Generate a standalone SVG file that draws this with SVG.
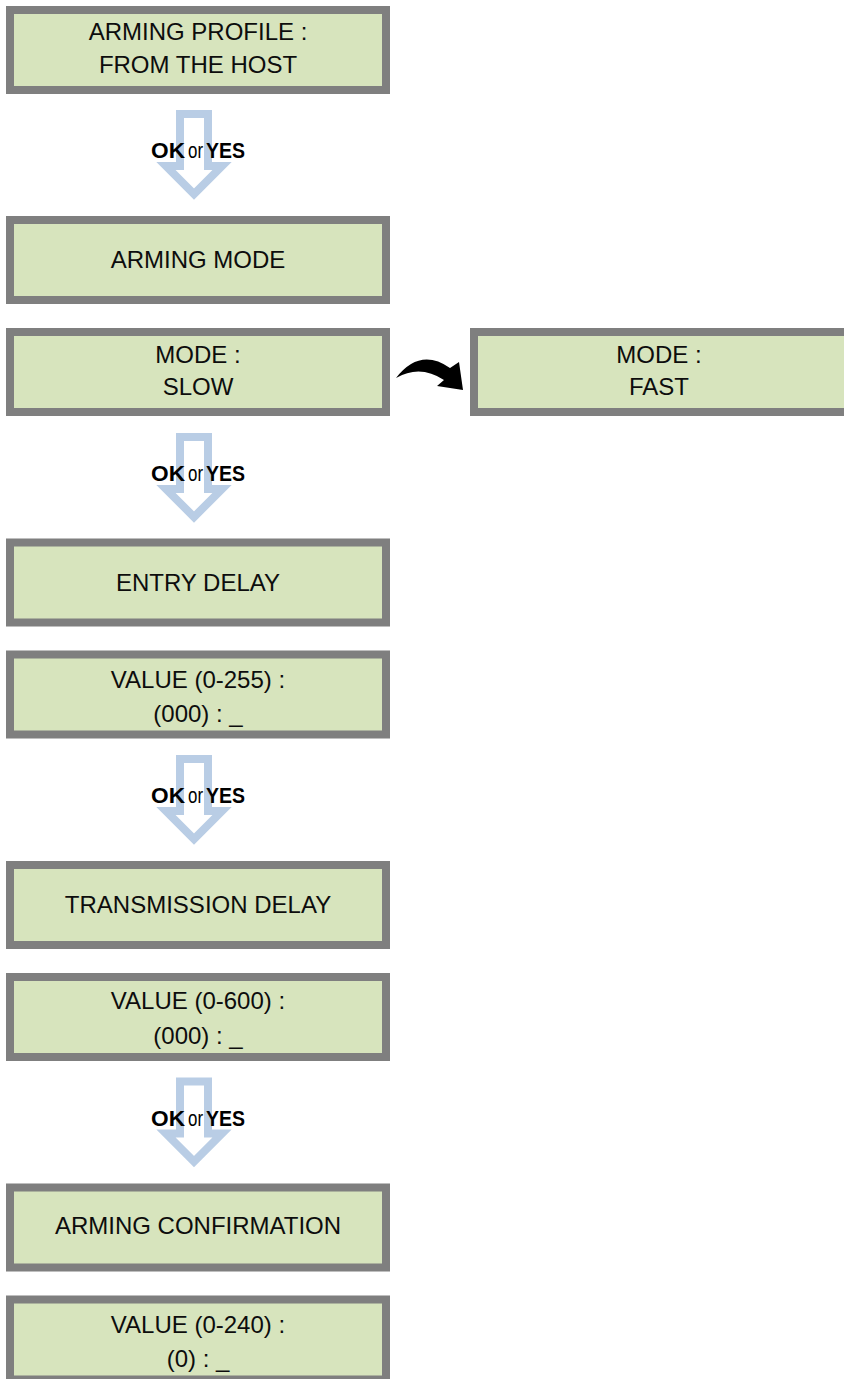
<svg xmlns="http://www.w3.org/2000/svg" width="844" height="1379" viewBox="0 0 844 1379">
  <style>
    .box { fill: #d7e4bd; stroke: #7f7f7f; stroke-width: 8; }
    .lbl { font-family: "Liberation Sans", Arial, sans-serif; font-size: 24px; fill: #0d0d0d; text-anchor: middle; }
    .step { fill: #ffffff; stroke: #b9cde5; stroke-width: 8; stroke-linejoin: miter; }
    .key { font-family: "Liberation Sans", Arial, sans-serif; font-size: 22px; fill: #000000; }
    .b { font-weight: bold; }
    .swap { fill: #000000; }
  </style>
  <defs>
    <!-- hollow down arrow used between menu steps -->
    <polygon id="stepArrow" class="step" points="180,114 208,114 208,166 222,166 194,194 166,166 180,166"/>
  </defs>

  <rect width="844" height="1379" fill="#ffffff"/>

  <!-- connectors -->
  <g id="connectors">
    <g id="step-1">
      <use href="#stepArrow"/>
      <text class="key b" x="151" y="158" textLength="34" lengthAdjust="spacingAndGlyphs">OK</text>
      <text class="key" x="188" y="158" font-size="19" textLength="15" lengthAdjust="spacingAndGlyphs">or</text>
      <text class="key b" x="206" y="158" textLength="39" lengthAdjust="spacingAndGlyphs">YES</text>
    </g>
    <g id="step-2" transform="translate(0,323)">
      <use href="#stepArrow"/>
      <text class="key b" x="151" y="158" textLength="34" lengthAdjust="spacingAndGlyphs">OK</text>
      <text class="key" x="188" y="158" font-size="19" textLength="15" lengthAdjust="spacingAndGlyphs">or</text>
      <text class="key b" x="206" y="158" textLength="39" lengthAdjust="spacingAndGlyphs">YES</text>
    </g>
    <g id="step-3" transform="translate(0,645)">
      <use href="#stepArrow"/>
      <text class="key b" x="151" y="158" textLength="34" lengthAdjust="spacingAndGlyphs">OK</text>
      <text class="key" x="188" y="158" font-size="19" textLength="15" lengthAdjust="spacingAndGlyphs">or</text>
      <text class="key b" x="206" y="158" textLength="39" lengthAdjust="spacingAndGlyphs">YES</text>
    </g>
    <g id="step-4" transform="translate(0,967.5)">
      <use href="#stepArrow"/>
      <text class="key b" x="151" y="158" textLength="34" lengthAdjust="spacingAndGlyphs">OK</text>
      <text class="key" x="188" y="158" font-size="19" textLength="15" lengthAdjust="spacingAndGlyphs">or</text>
      <text class="key b" x="206" y="158" textLength="39" lengthAdjust="spacingAndGlyphs">YES</text>
    </g>
    <!-- curved arrow: toggle between SLOW and FAST -->
    <path id="toggle" class="swap" d="M396,378 Q420,347 450,368 L459,362 L463,390 L437,386 L444,380 Q420,364 396,378 Z"/>
  </g>

  <!-- menu screens -->
  <g id="arming-profile">
    <rect class="box" x="10" y="10" width="376" height="80"/>
    <text class="lbl" x="198" y="40">ARMING PROFILE :</text>
    <text class="lbl" x="198" y="73">FROM THE HOST</text>
  </g>

  <g id="arming-mode">
    <rect class="box" x="10" y="220" width="376" height="80"/>
    <text class="lbl" x="198" y="268">ARMING MODE</text>
  </g>

  <g id="mode-slow">
    <rect class="box" x="10" y="332" width="376" height="80"/>
    <text class="lbl" x="198" y="363">MODE :</text>
    <text class="lbl" x="198" y="395">SLOW</text>
  </g>

  <g id="mode-fast">
    <rect class="box" x="474" y="332" width="376" height="80"/>
    <text class="lbl" x="659" y="363">MODE :</text>
    <text class="lbl" x="659" y="395">FAST</text>
  </g>

  <g id="entry-delay">
    <rect class="box" x="10" y="542.5" width="376" height="80"/>
    <text class="lbl" x="198" y="590.5">ENTRY DELAY</text>
  </g>

  <g id="entry-value">
    <rect class="box" x="10" y="654.5" width="376" height="80"/>
    <text class="lbl" x="198" y="688">VALUE (0-255) :</text>
    <text class="lbl" x="198" y="722">(000) : _</text>
  </g>

  <g id="transmission-delay">
    <rect class="box" x="10" y="865" width="376" height="80"/>
    <text class="lbl" x="198" y="913">TRANSMISSION DELAY</text>
  </g>

  <g id="transmission-value">
    <rect class="box" x="10" y="977" width="376" height="80"/>
    <text class="lbl" x="198" y="1009">VALUE (0-600) :</text>
    <text class="lbl" x="198" y="1044">(000) : _</text>
  </g>

  <g id="arming-confirmation">
    <rect class="box" x="10" y="1187.5" width="376" height="80"/>
    <text class="lbl" x="198" y="1234">ARMING CONFIRMATION</text>
  </g>

  <g id="confirmation-value">
    <rect class="box" x="10" y="1299.5" width="376" height="80"/>
    <text class="lbl" x="198" y="1333">VALUE (0-240) :</text>
    <text class="lbl" x="198" y="1367">(0) : _</text>
  </g>
</svg>
